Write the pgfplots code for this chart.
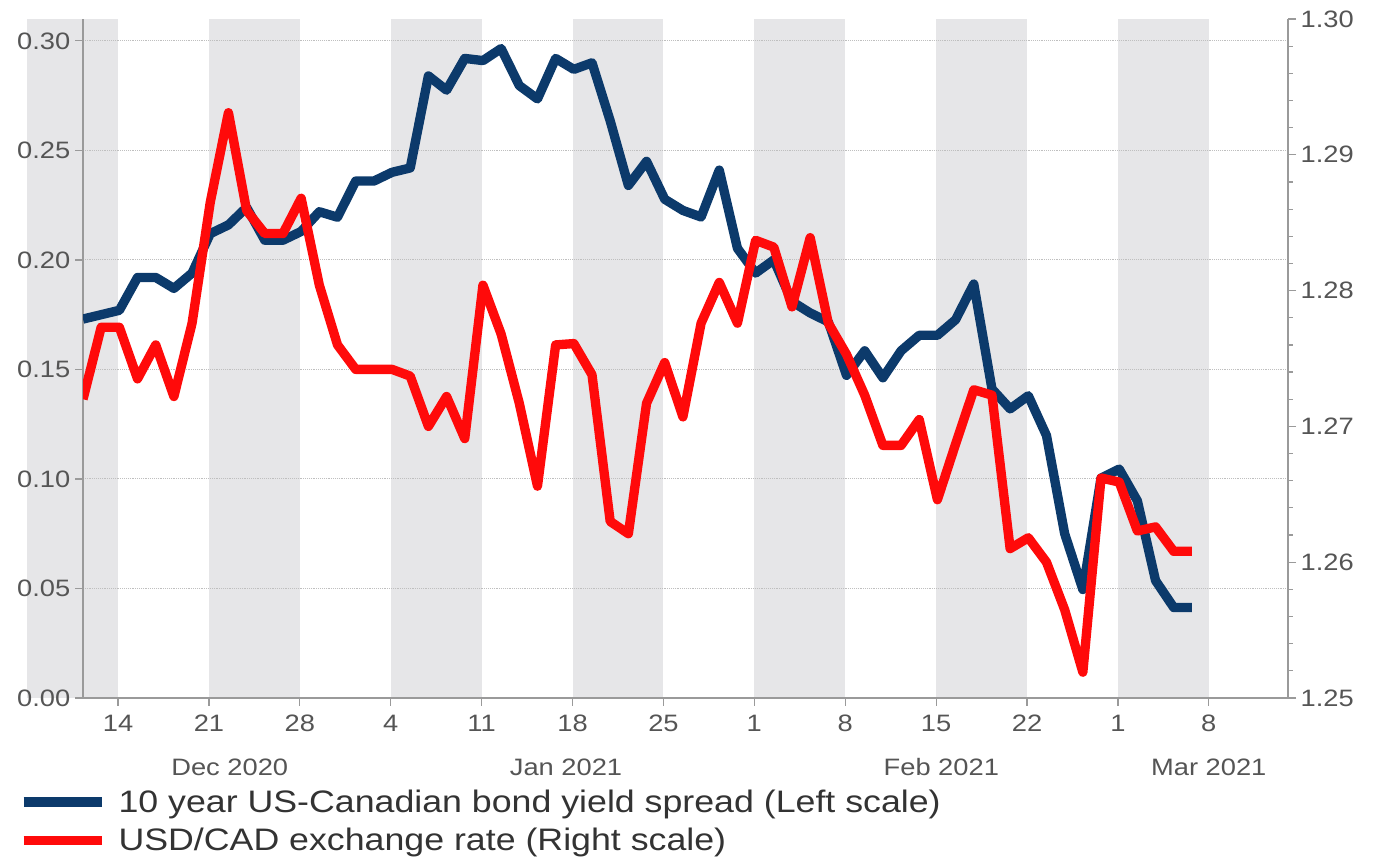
\documentclass[border=0pt]{standalone}
\usepackage{pgfplots}
\pgfplotsset{compat=1.18}
\usepackage{pgfplotstable}
\usepackage{fontspec}
\setmainfont{Liberation Sans}[FakeStretch=1.15]
\newfontfamily\legfont{Liberation Sans}[FakeStretch=1.15]
\definecolor{navy}{HTML}{0C3A6B}
\definecolor{cred}{HTML}{FF0A0A}
\definecolor{band}{HTML}{E6E6E8}
\definecolor{txt}{HTML}{555555}
\definecolor{legtxt}{HTML}{333333}
\definecolor{spine}{HTML}{9A9A9A}

\pgfplotstableread{
x spread usdcad
-2.7 0.173 1.2720
-1.3 0.175 1.2773
0.1 0.177 1.2773
1.5 0.192 1.2735
2.9 0.192 1.2760
4.3 0.187 1.2722
5.7 0.194 1.2776
7.1 0.212 1.2865
8.5 0.216 1.2931
9.9 0.224 1.2859
11.3 0.209 1.2842
12.7 0.209 1.2842
14.1 0.213 1.2868
15.5 0.222 1.2804
16.9 0.2195 1.2760
18.3 0.236 1.2742
19.7 0.236 1.2742
21.1 0.240 1.2742
22.5 0.242 1.2737
23.9 0.284 1.2700
25.3 0.2775 1.2722
26.7 0.292 1.2691
28.1 0.291 1.2804
29.5 0.2965 1.2768
30.9 0.2796 1.2717
32.3 0.2735 1.2656
33.7 0.292 1.2760
35.1 0.287 1.2761
36.5 0.290 1.2738
37.9 0.2635 1.2630
39.3 0.234 1.2621
40.7 0.245 1.2717
42.1 0.2277 1.2747
43.5 0.2226 1.2707
44.9 0.2196 1.2776
46.3 0.241 1.2806
47.7 0.2053 1.2776
49.1 0.194 1.2837
50.5 0.200 1.2832
51.9 0.181 1.2788
53.3 0.1758 1.2839
54.7 0.1717 1.2776
56.1 0.1473 1.2753
57.5 0.1585 1.2723
58.9 0.1462 1.2686
60.3 0.1585 1.2686
61.7 0.1656 1.2705
63.1 0.1656 1.2646
64.5 0.1727 1.2687
65.9 0.189 1.2727
67.3 0.1411 1.2723
68.7 0.132 1.2610
70.1 0.138 1.2618
71.5 0.1198 1.2600
72.9 0.075 1.2565
74.3 0.0495 1.2519
75.7 0.1004 1.2662
77.1 0.1045 1.2659
78.5 0.090 1.2623
79.9 0.0536 1.2626
81.3 0.0413 1.2608
82.7 0.0413 1.2608
}\data

\pgfplotsset{
  common/.style={
    scale only axis, width=903.75pt, height=509.25pt,
    xmin=-2.7, xmax=90.1,
    tick align=outside, major tick length=6pt, minor tick length=3.5pt,
    axis line style={spine, line width=0.9pt},
    tick style={spine, line width=0.9pt},
    tick label style={font=\fontsize{17.8}{20}\selectfont, text=txt},
    /pgf/number format/assume math mode=true,
    yticklabel style={/pgf/number format/.cd, fixed, fixed zerofill, precision=2},
  }
}

\begin{document}
\begin{tikzpicture}
\begin{axis}[common, set layers,
  ymin=0, ymax=0.31,
  axis x line*=bottom, axis y line*=left,
  xtick={0,7,14,21,28,35,42,49,56,63,70,77,84},
  xticklabels={14,21,28,4,11,18,25,1,8,15,22,1,8},
  ytick={0,0.05,0.1,0.15,0.2,0.25,0.3},
  ymajorgrids, grid style={gray!50, densely dotted, line width=0.7pt},
  xticklabel style={yshift=-3pt},
]
\addplot[on layer=axis background, fill=band, draw=none, forget plot] coordinates {(-7,0) (-7,0.31) (0,0.31) (0,0)} -- cycle;
\addplot[on layer=axis background, fill=band, draw=none, forget plot] coordinates {(7,0) (7,0.31) (14,0.31) (14,0)} -- cycle;
\addplot[on layer=axis background, fill=band, draw=none, forget plot] coordinates {(21,0) (21,0.31) (28,0.31) (28,0)} -- cycle;
\addplot[on layer=axis background, fill=band, draw=none, forget plot] coordinates {(35,0) (35,0.31) (42,0.31) (42,0)} -- cycle;
\addplot[on layer=axis background, fill=band, draw=none, forget plot] coordinates {(49,0) (49,0.31) (56,0.31) (56,0)} -- cycle;
\addplot[on layer=axis background, fill=band, draw=none, forget plot] coordinates {(63,0) (63,0.31) (70,0.31) (70,0)} -- cycle;
\addplot[on layer=axis background, fill=band, draw=none, forget plot] coordinates {(77,0) (77,0.31) (84,0.31) (84,0)} -- cycle;
\addplot[navy, line width=7pt, line join=round] table[x=x, y=spread] {\data};
\coordinate (mDec) at (axis cs:8.6,0);
\coordinate (mJan) at (axis cs:34.5,0);
\coordinate (mFeb) at (axis cs:63.4,0);
\coordinate (mMar) at (axis cs:84.0,0);
\coordinate (SW) at (rel axis cs:0,0);
\coordinate (NE) at (rel axis cs:1,1);
\end{axis}
\begin{axis}[common,
  ymin=1.25, ymax=1.30,
  axis x line=none, axis y line*=right,
  ytick={1.25,1.26,1.27,1.28,1.29,1.30},
  minor y tick num=4,
  legend style={at={(-0.0537,-0.1306)}, anchor=north west, draw=none, fill=none,
    inner sep=0pt, row sep=6.5pt,
    font=\legfont\fontsize{23.3}{26}\selectfont, text=legtxt,
    /tikz/every odd column/.append style={column sep=7pt}},
  legend cell align=left,
  legend image code/.code={\draw[#1] (0pt,0pt) -- (58.5pt,0pt);},
]
\addlegendimage{navy, line width=7.5pt}
\addlegendentry{10 year US-Canadian bond yield spread (Left scale)}
\addplot[cred, line width=7pt, line join=round] table[x=x, y=usdcad] {\data};
\addlegendentry{USD/CAD exchange rate (Right scale)}
\end{axis}
\node[font=\fontsize{17.8}{20}\selectfont, text=txt] at ([yshift=-51.75pt]mDec) {Dec 2020};
\node[font=\fontsize{17.8}{20}\selectfont, text=txt] at ([yshift=-51.75pt]mJan) {Jan 2021};
\node[font=\fontsize{17.8}{20}\selectfont, text=txt] at ([yshift=-51.75pt]mFeb) {Feb 2021};
\node[font=\fontsize{17.8}{20}\selectfont, text=txt] at ([yshift=-51.75pt]mMar) {Mar 2021};
\pgfresetboundingbox
\path[use as bounding box] ([xshift=-62.25pt, yshift=-122.25pt]SW) rectangle ([xshift=64.5pt, yshift=14.25pt]NE);
\end{tikzpicture}
\end{document}
